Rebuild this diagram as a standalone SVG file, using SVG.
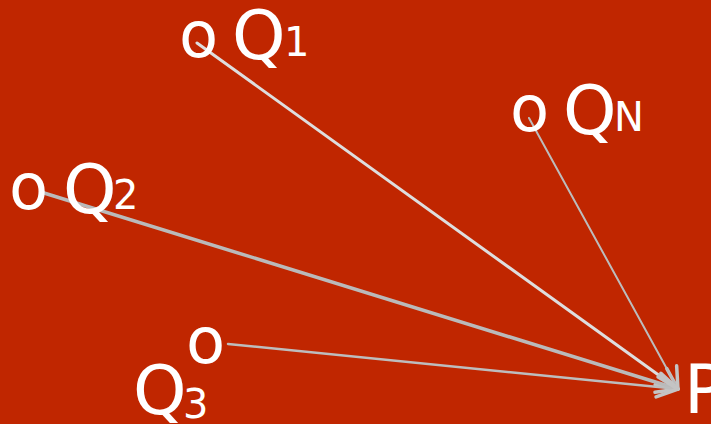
<svg xmlns="http://www.w3.org/2000/svg" width="711" height="424" viewBox="0 0 711 424">
<style>
text{font-family:"DejaVu Sans","Verdana",sans-serif;fill:#fff}
.o{font-size:64px}
.q{font-size:68px}
.s{font-size:40px}
.l{fill:none;stroke-linecap:round}
</style>
<defs>
<marker id="ah" viewBox="0 0 26 26" refX="23" refY="13" markerWidth="26" markerHeight="26" markerUnits="userSpaceOnUse" orient="auto">
<path d="M2,3 L23,13 L2,23" fill="none" stroke="#c4c4c4" stroke-width="3.5" stroke-linejoin="round" stroke-linecap="round"/>
</marker>
</defs>
<rect width="711" height="424" fill="#c02600"/>
<g id="connectors">
<line class="l" x1="197" y1="43" x2="678" y2="389" stroke="#dedede" stroke-width="3" marker-end="url(#ah)"/>
<line class="l" x1="529" y1="118" x2="678" y2="389" stroke="#bcbcbc" stroke-width="2" marker-end="url(#ah)"/>
<line class="l" x1="44" y1="193" x2="678" y2="389" stroke="#bababa" stroke-width="3.5" marker-end="url(#ah)"/>
<line class="l" x1="228" y1="344" x2="678" y2="389" stroke="#bdbdbd" stroke-width="2.5" marker-end="url(#ah)"/>
</g>
<g id="Q1"><text class="o" x="179" y="57">o</text><text class="q" x="232" y="59">Q</text><text class="s" x="284" y="56">1</text></g>
<g id="QN"><text class="o" x="510" y="131">o</text><text class="q" x="563" y="134">Q</text><text class="s" x="614" y="131">N</text></g>
<g id="Q2"><text class="o" x="9" y="209">o</text><text class="q" x="63" y="213">Q</text><text class="s" x="113" y="209">2</text></g>
<g id="Q3"><text class="o" x="186" y="363">o</text><text class="q" x="133" y="414">Q</text><text class="s" x="183" y="418">3</text></g>
<g id="P"><text class="q" x="684" y="413">P</text></g>
</svg>
